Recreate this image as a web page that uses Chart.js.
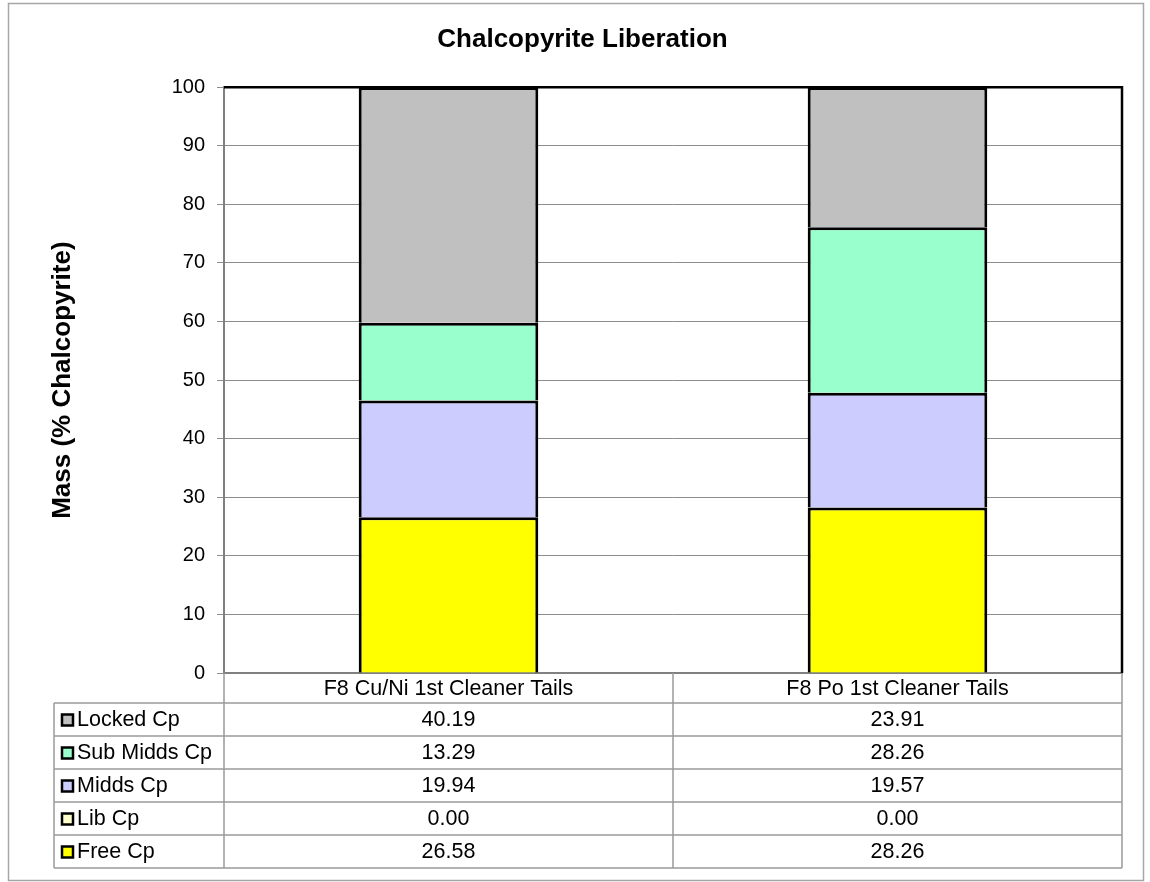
<!DOCTYPE html>
<html>
<head>
<meta charset="utf-8">
<script src="https://cdn.jsdelivr.net/npm/chart.js@4.4.1/dist/chart.umd.min.js"></script>
<style>
  html,body{margin:0;padding:0;background:#fff;}
  canvas{display:block;}
</style>
</head>
<body>
<canvas id="libChart" width="1150" height="882"></canvas>
<script>
// liberation data, stack order bottom -> top
const categories = ['F8 Cu/Ni 1st Cleaner Tails', 'F8 Po 1st Cleaner Tails'];
const freeCp     = [26.58, 28.26];
const libCp      = [0.00, 0.00];
const middsCp    = [19.94, 19.57];
const subMiddsCp = [13.29, 28.26];
const lockedCp   = [40.19, 23.91];
const yTicks     = [0, 10, 20, 30, 40, 50, 60, 70, 80, 90, 100];

const FONT = '"Liberation Sans", Arial, sans-serif';

const series = [
  {label: 'Free Cp',      data: freeCp,     color: '#FFFF00'},
  {label: 'Lib Cp',       data: libCp,      color: '#FFFFCC'},
  {label: 'Midds Cp',     data: middsCp,    color: '#CCCCFF'},
  {label: 'Sub Midds Cp', data: subMiddsCp, color: '#99FFCC'},
  {label: 'Locked Cp',    data: lockedCp,   color: '#C0C0C0'}
];

// frame, plot border and the data table under the plot
const tablePlugin = {
  id: 'dataTable',
  beforeDraw(chart){
    const c = chart.ctx;
    c.save();
    c.fillStyle = '#fff';
    c.fillRect(0, 0, chart.width, chart.height);
    c.strokeStyle = '#a6a6a6'; c.lineWidth = 1.5;
    c.strokeRect(8.5, 3.5, 1135, 877);
    c.restore();
  },
  afterDatasetsDraw(chart){
    const c = chart.ctx, a = chart.chartArea;
    c.save();
    c.strokeStyle = '#000'; c.lineWidth = 2.5;
    c.beginPath();
    c.moveTo(a.left, a.top); c.lineTo(a.right, a.top); c.lineTo(a.right, a.bottom);
    c.stroke();
    c.restore();
  },
  afterDraw(chart){
    const c = chart.ctx, a = chart.chartArea, xs = chart.scales.x;
    const headH = 30, rowH = 33, legL = 54;
    const top = a.bottom, rowsTop = top + headH;
    const nRows = series.length;
    const bottom = rowsTop + nRows * rowH;
    const centers = categories.map((_, i) => xs.getPixelForValue(i));
    const mid = (centers[0] + centers[1]) / 2;

    c.save();
    c.strokeStyle = '#9a9a9a'; c.lineWidth = 1.5;
    c.beginPath();
    // verticals
    [a.left, mid, a.right].forEach(x => { c.moveTo(x, top); c.lineTo(x, bottom); });
    c.moveTo(legL, rowsTop); c.lineTo(legL, bottom);
    // horizontals
    for(let r = 0; r <= nRows; r++){
      const y = rowsTop + r * rowH;
      c.moveTo(legL, y); c.lineTo(a.right, y);
    }
    c.stroke();

    c.fillStyle = '#000';
    c.font = '21.5px ' + FONT;
    c.textAlign = 'center'; c.textBaseline = 'middle';
    categories.forEach((cat, i) => c.fillText(cat, centers[i], top + headH / 2 + 1));

    // rows run top -> bottom, i.e. reverse of the stack
    series.slice().reverse().forEach((s, r) => {
      const yc = rowsTop + r * rowH + rowH / 2 + 1;
      c.fillStyle = s.color;
      c.fillRect(62, yc - 6, 11, 11);
      c.strokeStyle = '#000'; c.lineWidth = 2.5;
      c.strokeRect(62, yc - 6, 11, 11);
      c.fillStyle = '#000';
      c.textAlign = 'left';
      c.fillText(s.label, 77, yc);
      c.textAlign = 'center';
      s.data.forEach((v, i) => c.fillText(v.toFixed(2), centers[i], yc));
    });
    c.restore();
  }
};

new Chart(document.getElementById('libChart').getContext('2d'), {
  type: 'bar',
  data: {
    labels: categories,
    datasets: series.map(s => ({
      label: s.label,
      data: s.data,
      backgroundColor: s.color,
      borderColor: '#000',
      borderWidth: 3,
      categoryPercentage: 1,
      barPercentage: 0.4
    }))
  },
  options: {
    responsive: false,
    animation: false,
    layout: {padding: {left: 43, right: 28, top: 0, bottom: 209}},
    plugins: {
      legend: {display: false},
      tooltip: {enabled: false},
      title: {
        display: true,
        text: 'Chalcopyrite Liberation',
        color: '#000',
        font: {family: FONT, size: 26, weight: 'bold'},
        padding: {top: 24, bottom: 32}
      }
    },
    scales: {
      x: {
        stacked: true,
        ticks: {display: false},
        grid: {display: false},
        border: {color: '#808080', width: 2},
        afterFit(s){ s.height = 0; }
      },
      y: {
        stacked: true,
        min: 0, max: 100,
        afterBuildTicks(s){ s.ticks = yTicks.map(v => ({value: v})); },
        ticks: {color: '#000', font: {family: FONT, size: 20}, padding: 12},
        grid: {color: '#8c8c8c', lineWidth: 1, tickLength: 7},
        border: {color: '#808080', width: 2},
        title: {
          display: true,
          text: 'Mass (% Chalcopyrite)',
          color: '#000',
          font: {family: FONT, size: 26, weight: 'bold'},
          padding: {top: 4, bottom: 0}
        },
        afterFit(s){ s.width = 224 - 43; }
      }
    }
  },
  plugins: [tablePlugin]
});
</script>
</body>
</html>
